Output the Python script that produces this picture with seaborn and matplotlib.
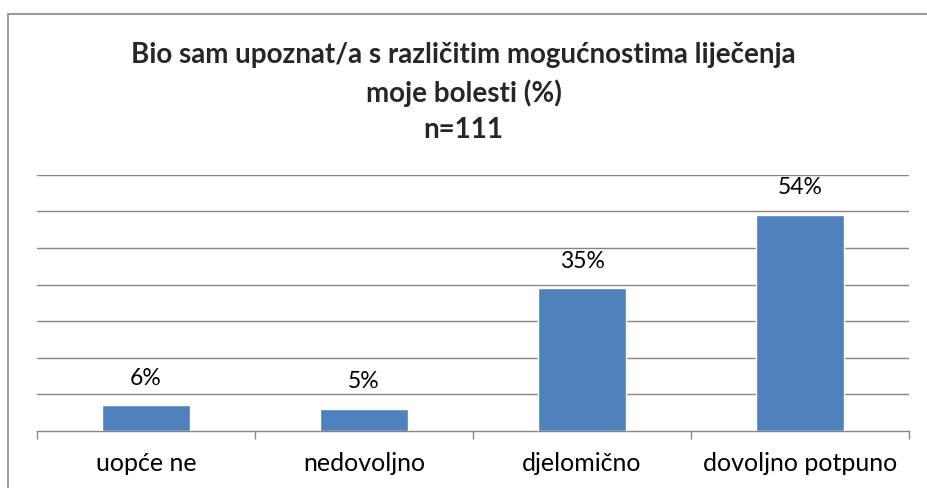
import matplotlib
matplotlib.use("Agg")
import matplotlib.pyplot as plt
import seaborn as sns
import pandas as pd
from matplotlib.patches import Rectangle

# data (bar heights are counts out of n=111, labels are percentages)
categories = ["uopće ne", "nedovoljno", "djelomično", "dovoljno potpuno"]
counts = [7, 6, 39, 59]
pct_labels = ["6%", "5%", "35%", "54%"]

sns.set_theme(style="white")
plt.rcParams["font.family"] = ["Lato", "DejaVu Sans"]

df = pd.DataFrame({"odgovor": categories, "n": counts})

fig = plt.figure(figsize=(9.27, 4.88), dpi=100)
ax = fig.add_axes([37 / 927, 1 - 431 / 488, (909 - 37) / 927, (431 - 174.7) / 488])

sns.barplot(data=df, x="odgovor", y="n", color="#4F81BD", width=0.4,
            saturation=1, ax=ax, zorder=3)

ax.set_ylim(0, 70)
ax.set_xlim(-0.5, 3.5)
ax.set_yticks(range(10, 80, 10))
ax.yaxis.grid(True, color="#868686", linewidth=1.0, zorder=0)
ax.tick_params(axis="y", left=False, labelleft=False)
ax.set_xlabel("")
ax.set_ylabel("")

for side in ["left", "right", "top"]:
    ax.spines[side].set_visible(False)
ax.spines["bottom"].set_color("#868686")
ax.spines["bottom"].set_linewidth(1.0)

# ticks on category boundaries, labels centred
ax.set_xticks([-0.5, 0.5, 1.5, 2.5, 3.5], minor=True)
ax.tick_params(axis="x", which="minor", length=6, width=1, color="#868686", direction="out", bottom=True)
ax.tick_params(axis="x", which="major", length=0, pad=15, labelsize=18, labelcolor="black")

for i, (v, lab) in enumerate(zip(counts, pct_labels)):
    ax.annotate(lab, (i, v), xytext=(0, 12), textcoords="offset points",
                ha="center", va="bottom", fontsize=16.5, color="black")

title_lines = ["Bio sam upoznat/a s različitim mogućnostima liječenja",
               "moje bolesti (%)", "n=111"]
for line, ypix in zip(title_lines, [55, 93, 130]):
    fig.text(0.5, 1 - ypix / 488, line, ha="center", va="center",
             fontsize=20, fontweight="bold")

# chart frame (cut off at right and bottom like the reference)
fig.patches.append(Rectangle((8 / 927, -0.05), 1.1, 1 - 14.5 / 488 + 0.05,
                             transform=fig.transFigure, fill=False,
                             edgecolor="#868686", linewidth=1.2))

fig.savefig("out.png", dpi=100)
